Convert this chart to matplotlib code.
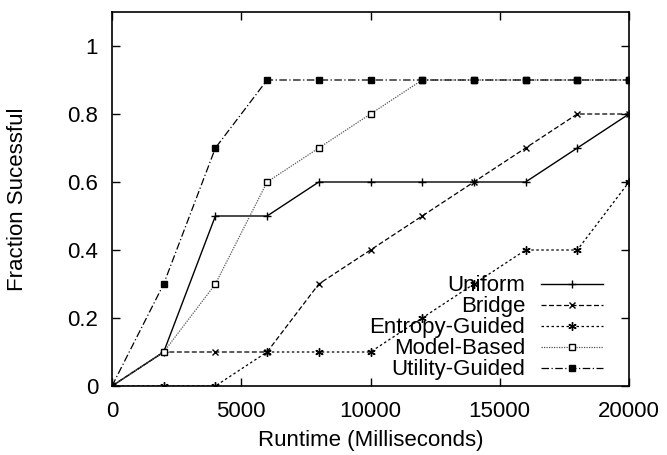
import matplotlib
matplotlib.use('Agg')
import matplotlib.pyplot as plt

runtime = [0, 2000, 4000, 6000, 8000, 10000, 12000, 14000, 16000, 18000, 20000]
uniform = [0, 0.1, 0.5, 0.5, 0.6, 0.6, 0.6, 0.6, 0.6, 0.7, 0.8]
bridge = [0, 0.1, 0.1, 0.1, 0.3, 0.4, 0.5, 0.6, 0.7, 0.8, 0.8]
entropy = [0, 0, 0, 0.1, 0.1, 0.1, 0.2, 0.3, 0.4, 0.4, 0.6]
model = [0, 0.1, 0.3, 0.6, 0.7, 0.8, 0.9, 0.9, 0.9, 0.9, 0.9]
utility = [0, 0.3, 0.7, 0.9, 0.9, 0.9, 0.9, 0.9, 0.9, 0.9, 0.9]

plt.rcParams['font.family'] = ['Liberation Sans', 'DejaVu Sans']
plt.rcParams['font.size'] = 16

fig = plt.figure(figsize=(6.67, 4.55), dpi=100)
ax = fig.add_axes([112 / 667, 1 - 386 / 455, 517 / 667, 374 / 455])

ax.plot(runtime, uniform, color='black', lw=1, ls='-', marker='+', ms=6, mew=1,
        label='Uniform')
ax.plot(runtime, bridge, color='black', lw=0.9, ls=(0, (4, 2)), marker='x', ms=4.5, mew=1,
        label='Bridge')
ax.plot(runtime, entropy, color='black', lw=0.9, ls=(0, (2, 2)), marker=(6, 2, 0), ms=6,
        mew=1, label='Entropy-Guided')
ax.plot(runtime, model, color='#555555', lw=0.9, ls=(0, (1, 1)), marker='s', ms=4.5,
        mfc='white', mec='black', mew=1, label='Model-Based')
ax.plot(runtime, utility, color='black', lw=0.9, ls=(0, (6, 2, 1, 2)), marker='s', ms=5,
        mfc='black', mec='black', label='Utility-Guided')

ax.set_xlim(0, 20000)
ax.set_ylim(0, 1.1)
ax.set_xticks([0, 5000, 10000, 15000, 20000])
ax.set_yticks([0, 0.2, 0.4, 0.6, 0.8, 1])
ax.set_yticklabels(['0', '0.2', '0.4', '0.6', '0.8', '1'])
ax.tick_params(direction='in', top=True, right=True, length=6, width=1)
ax.tick_params(axis='x', pad=11)
ax.tick_params(axis='y', pad=10)
for sp in ax.spines.values():
    sp.set_linewidth(1.2)

ax.set_xlabel('Runtime (Milliseconds)')
ax.set_ylabel('Fraction Sucessful')
ax.xaxis.set_label_coords(0.5, -0.118)
ax.yaxis.set_label_coords(-0.162, 0.5)

leg = ax.legend(loc='lower right', bbox_to_anchor=(0.95, 0.015), frameon=False,
                markerfirst=False, handlelength=2.8, labelspacing=0.0,
                borderaxespad=0, borderpad=0, handletextpad=0.7)
for t in leg.get_texts():
    t.set_ha('right')

fig.savefig('out.png', dpi=100)
